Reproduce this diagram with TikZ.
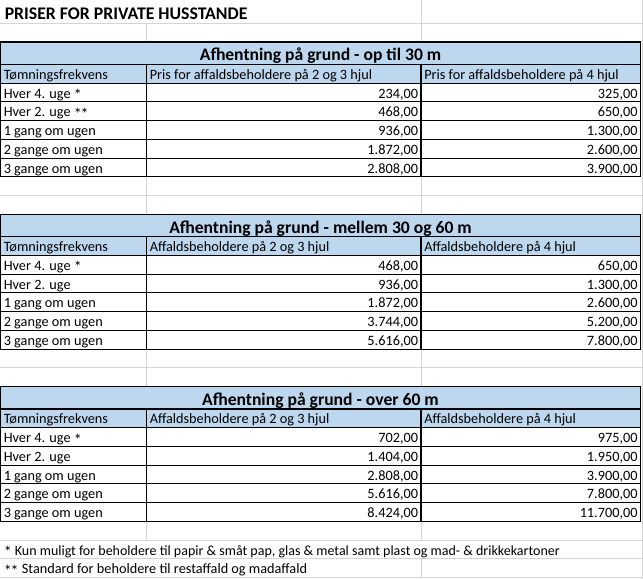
\documentclass[tikz,border=0pt]{standalone}
\usepackage{fontspec}
\setmainfont{Carlito}
\definecolor{hdrblue}{HTML}{BDD7EE}
\definecolor{gridgray}{HTML}{D4D4D4}
\newcommand{\st}{\raisebox{-1.9pt}{\fontsize{12}{12}\selectfont *}}
\newcommand{\rowtxt}[5]{%
  \node[cell] (#1a) at (3.5,#2-3.8) {#3};
  \node[num] (#1b) at (418.3,#2-3.8) {#4};
  \node[num] (#1c) at (637.8,#2-3.8) {#5};
}
\newcommand{\ptab}[5]{%
  \pgfmathsetmacro\tA{#2}
  \pgfmathsetmacro\tB{#2+22.5}
  \pgfmathsetmacro\tC{#2+41.22}
  \pgfmathsetmacro\tE{#2+134.82}
  \fill[hdrblue] (0.5,\tA) rectangle (640.5,\tC);
  \foreach \k in {1,...,4} {\draw[border] (0.5,\tC+\k*18.72) -- (640.5,\tC+\k*18.72);}
  \draw[border] (0.5,\tB) -- (640.5,\tB);
  \draw[border] (0.5,\tC) -- (640.5,\tC);
  \draw[border] (146.7,\tB) -- (146.7,\tE);
  \draw[border] (421,\tB) -- (421,\tE);
  \draw[border] (0.5,\tA) rectangle (640.5,\tE);
  \node[hdr] (#1t) at (320.5,\tB-3.6) {#3};
  \node[cell] (#1ha) at (3.5,\tC-3.8) {Tømningsfrekvens};
  \node[cell] (#1hb) at (149.5,\tC-3.8) {#4};
  \node[cell] (#1hc) at (424,\tC-3.8) {#5};
}
\begin{document}
\begin{tikzpicture}[x=0.75pt,y=-0.75pt,
  grid/.style={draw=gridgray,line width=0.75pt},
  border/.style={draw=black,line width=0.8pt},
  cell/.style={font=\fontsize{10.7}{12}\selectfont,inner sep=0pt,anchor=base west},
  num/.style={font=\fontsize{10.7}{12}\selectfont,inner sep=0pt,anchor=base east},
  hdr/.style={font=\fontsize{13.2}{15}\selectfont\bfseries,inner sep=0pt,anchor=base},
  ttl/.style={font=\fontsize{13.3}{15}\selectfont\bfseries,inner sep=0pt,anchor=base west}]
\fill[white] (0,0) rectangle (643,579);
\useasboundingbox (0,0) rectangle (643,579);
% grid lines outside the tables
\draw[grid] (0,23.3) -- (643,23.3);
\draw[grid] (421,0) -- (421,42);
\draw[grid] (146.7,23.3) -- (146.7,42);
\draw[grid] (642.2,0) -- (642.2,579);
\draw[grid] (0,195.5) -- (643,195.5);
\draw[grid] (146.7,176.8) -- (146.7,214.2);
\draw[grid] (421,176.8) -- (421,214.2);
\draw[grid] (0,367.8) -- (643,367.8);
\draw[grid] (146.7,349) -- (146.7,386.5);
\draw[grid] (421,349) -- (421,386.5);
\draw[grid] (0,540) -- (643,540);
\draw[grid] (0,558.8) -- (643,558.8);
\draw[grid] (0,577.5) -- (643,577.5);
\draw[grid] (146.7,521.3) -- (146.7,540);
\draw[grid] (421,521.3) -- (421,540);
\draw[grid] (421,558.8) -- (421,577.5);
% title
\node[ttl] (title) at (4.5,19) {PRISER FOR PRIVATE HUSSTANDE};
% table 1
\ptab{A}{42}{Afhentning på grund - op til 30 m}{Pris for affaldsbeholdere på 2 og 3 hjul}{Pris for affaldsbeholdere på 4 hjul}
\rowtxt{A1}{101.94}{Hver 4. uge \st}{234,00}{325,00}
\rowtxt{A2}{120.66}{Hver 2. uge \st\kern-0.8pt\st}{468,00}{650,00}
\rowtxt{A3}{139.38}{1 gang om ugen}{936,00}{1.300,00}
\rowtxt{A4}{158.10}{2 gange om ugen}{1.872,00}{2.600,00}
\rowtxt{A5}{176.82}{3 gange om ugen}{2.808,00}{3.900,00}
% table 2
\ptab{B}{214.26}{Afhentning på grund - mellem 30 og 60 m}{Affaldsbeholdere på 2 og 3 hjul}{Affaldsbeholdere på 4 hjul}
\rowtxt{B1}{274.2}{Hver 4. uge \st}{468,00}{650,00}
\rowtxt{B2}{292.92}{Hver 2. uge}{936,00}{1.300,00}
\rowtxt{B3}{311.64}{1 gang om ugen}{1.872,00}{2.600,00}
\rowtxt{B4}{330.36}{2 gange om ugen}{3.744,00}{5.200,00}
\rowtxt{B5}{349.08}{3 gange om ugen}{5.616,00}{7.800,00}
% table 3
\ptab{C}{386.52}{Afhentning på grund - over 60 m}{Affaldsbeholdere på 2 og 3 hjul}{Affaldsbeholdere på 4 hjul}
\rowtxt{C1}{446.46}{Hver 4. uge \st}{702,00}{975,00}
\rowtxt{C2}{465.18}{Hver 2. uge}{1.404,00}{1.950,00}
\rowtxt{C3}{483.9}{1 gang om ugen}{2.808,00}{3.900,00}
\rowtxt{C4}{502.62}{2 gange om ugen}{5.616,00}{7.800,00}
\rowtxt{C5}{521.34}{3 gange om ugen}{8.424,00}{11.700,00}
% footnotes
\node[cell,font=\fontsize{10.5}{12}\selectfont] (fn1) at (3.5,558.8-3.8) {\st\ Kun muligt for beholdere til papir \& småt pap, glas \& metal samt plast og mad- \& drikkekartoner};
\node[cell] (fn2) at (3.5,577.5-3.8) {\st\kern-0.8pt\st\ Standard for beholdere til restaffald og madaffald};
\end{tikzpicture}
\end{document}
